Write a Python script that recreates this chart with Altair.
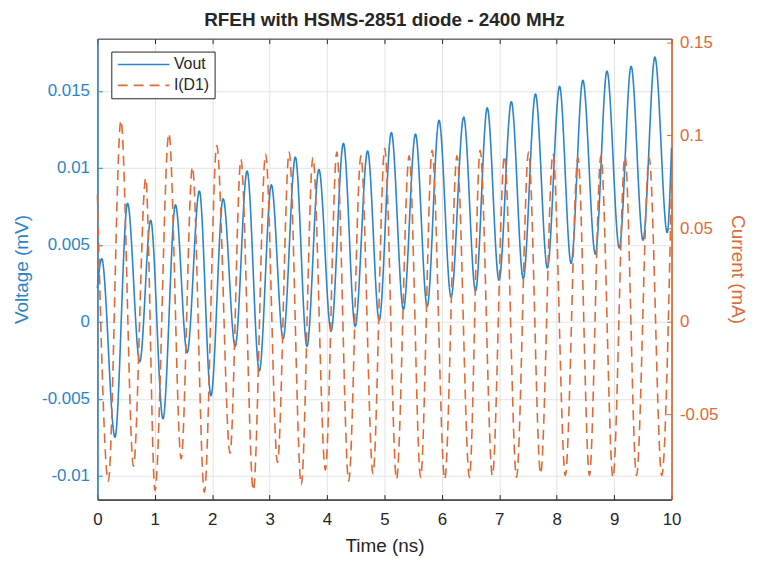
import altair as alt
import pandas as pd

# ---- data ----
t_vout = [0.0, 0.075, 0.306, 0.525, 0.738, 0.928, 1.142, 1.36, 1.563, 1.776, 1.978,
          2.19, 2.40, 2.607, 2.82, 3.03, 3.235, 3.448, 3.65, 3.858, 4.07, 4.285,
          4.49, 4.706, 4.908, 5.12, 5.33, 5.54, 5.744, 5.95, 6.16, 6.38, 6.586,
          6.79, 6.995, 7.21, 7.417, 7.63, 7.837, 8.05, 8.25, 8.455, 8.673, 8.875,
          9.09, 9.296, 9.503, 9.71, 9.925, 10.0]
vout = [0.0022, 0.0041, -0.0075, 0.0077, -0.0026, 0.0066, -0.0063, 0.0076, -0.0020,
        0.0085, -0.0048, 0.0080, -0.0016, 0.0098, -0.0032, 0.0089, -0.0011, 0.0107,
        -0.0016, 0.0099, -0.0006, 0.0116, -0.0003, 0.0111, 0.0001, 0.0123, 0.0008,
        0.0122, 0.0010, 0.0131, 0.0016, 0.0133, 0.0020, 0.0139, 0.0027, 0.0143,
        0.0028, 0.0148, 0.0035, 0.0153, 0.0038, 0.0157, 0.0044, 0.0163, 0.0048,
        0.0166, 0.0053, 0.0172, 0.0058, 0.0113]

t_cur = [0.0, 0.19, 0.41, 0.628, 0.842, 1.003, 1.246, 1.459, 1.655, 1.863, 2.08,
         2.31, 2.50, 2.716, 2.93, 3.137, 3.34, 3.55, 3.754, 3.97, 4.17, 4.377,
         4.59, 4.80, 5.005, 5.21, 5.43, 5.63, 5.83, 6.05, 6.263, 6.48, 6.666,
         6.88, 7.09, 7.30, 7.51, 7.72, 7.935, 8.15, 8.37, 8.57, 8.77, 8.98,
         9.19, 9.39, 9.61, 9.83, 10.0]
cur = [0.068, -0.086, 0.108, -0.078, 0.077, -0.091, 0.101, -0.074, 0.083, -0.092,
       0.0945, -0.071, 0.087, -0.091, 0.090, -0.076, 0.091, -0.088, 0.088, -0.080,
       0.091, -0.086, 0.089, -0.082, 0.093, -0.085, 0.089, -0.084, 0.092, -0.085,
       0.089, -0.084, 0.092, -0.083, 0.089, -0.084, 0.091, -0.082, 0.090, -0.083,
       0.088, -0.083, 0.089, -0.084, 0.089, -0.083, 0.088, -0.083, 0.075]

series_names = ["Vout", "I(D1)"]
x_ticks = [0, 1, 2, 3, 4, 5, 6, 7, 8, 9, 10]
v_ticks = [-0.01, -0.005, 0, 0.005, 0.01, 0.015]
i_ticks = [-0.05, 0, 0.05, 0.1, 0.15]
v_domain = [-0.01155, 0.0184]
i_domain = [-0.0959, 0.152]

BLUE = "#2B84C8"
ORANGE = "#DF6A35"
DARK = "#262626"
FONT = "Liberation Sans"

dv = pd.DataFrame({"t": t_vout, "val": vout, "series": "Vout"})
di = pd.DataFrame({"t": t_cur, "val": cur, "series": "I(D1)"})

xs = alt.Scale(domain=[0, 10], nice=False, zero=False)
ysv = alt.Scale(domain=v_domain, nice=False, zero=False)
ysi = alt.Scale(domain=i_domain, nice=False, zero=False)

color = alt.Color("series:N", scale=alt.Scale(domain=series_names, range=[BLUE, ORANGE]),
                  legend=alt.Legend(title=None))
dash = alt.StrokeDash("series:N", scale=alt.Scale(domain=series_names, range=[[1, 0], [10, 6]]),
                      legend=alt.Legend(title=None))

lab = "'' + datum.value"

l1 = alt.Chart(dv).mark_line(interpolate="monotone", strokeWidth=1.6).encode(
    x=alt.X("t:Q", scale=xs, axis=alt.Axis(
        orient="bottom", values=x_ticks, title="Time (ns)", grid=True, gridColor="#e3e3e3",
        ticks=False, domainColor=DARK, domainWidth=1, labelColor=DARK, labelFontSize=17,
        labelFont=FONT, labelPadding=12, labelFlush=False, titleFont=FONT, titleFontSize=19,
        titleFontWeight="normal", titleColor=DARK, titlePadding=9)),
    y=alt.Y("val:Q", scale=ysv, axis=alt.Axis(
        orient="left", values=v_ticks, labelExpr=lab, title="Voltage (mV)", grid=True,
        gridColor="#e3e3e3", ticks=False, domainColor=BLUE, domainWidth=1.5,
        labelColor=BLUE, labelFontSize=17, labelFont=FONT, labelPadding=8, labelFlush=False,
        titleFont=FONT, titleFontSize=19, titleFontWeight="normal", titleColor=BLUE,
        titlePadding=10)),
    color=color, strokeDash=dash)

l2 = alt.Chart(di).mark_line(interpolate="monotone", strokeWidth=1.6).encode(
    x=alt.X("t:Q", scale=xs, axis=None),
    y=alt.Y("val:Q", scale=ysi, axis=alt.Axis(
        orient="right", values=i_ticks, labelExpr=lab, title="Current (mA)", grid=False,
        ticks=False, domainColor=ORANGE, domainWidth=1.5, labelColor=ORANGE,
        labelFontSize=17, labelFont=FONT, labelPadding=8, labelFlush=False, titleFont=FONT,
        titleFontSize=19, titleFontWeight="normal", titleColor=ORANGE, titlePadding=10)),
    color=color, strokeDash=dash)

def tick_axis(orient, vals, col):
    return alt.Axis(orient=orient, values=vals, offset=-5, domain=False, labels=False,
                    ticks=True, tickSize=5, tickColor=col, tickWidth=1, grid=False, title=None)

l3 = alt.Chart(dv).mark_line(opacity=0).encode(
    x=alt.X("t:Q", scale=xs, axis=tick_axis("bottom", x_ticks, DARK)),
    y=alt.Y("val:Q", scale=ysv, axis=tick_axis("left", v_ticks, BLUE)))

l4 = alt.Chart(di).mark_line(opacity=0).encode(
    x=alt.X("t:Q", scale=xs, axis=tick_axis("top", x_ticks, DARK)),
    y=alt.Y("val:Q", scale=ysi, axis=tick_axis("right", i_ticks, ORANGE)))

chart = alt.layer(l1, l2, l3, l4).resolve_scale(
    x="independent", y="independent"
).resolve_axis(x="independent", y="independent").properties(
    width=578, height=464,
    title=alt.Title("RFEH with HSMS-2851 diode - 2400 MHz", fontSize=19, fontWeight="bold",
                    font=FONT, color=DARK, anchor="middle", offset=3),
    padding={"left": 90, "top": 29, "right": 80, "bottom": 60},
    autosize=alt.AutoSizeParams(type="none"),
).configure_view(stroke=DARK, strokeWidth=1).configure_legend(
    orient="none", legendX=14, legendY=13, strokeColor=DARK, fillColor="white",
    padding=5, symbolType="M-1,0H7", symbolSize=169, symbolStrokeWidth=1.6,
    labelFontSize=16, labelFont=FONT, labelColor=DARK, labelOffset=42, rowPadding=5,
)

chart.save("out.html", embed_options={"renderer": "svg", "actions": False})
